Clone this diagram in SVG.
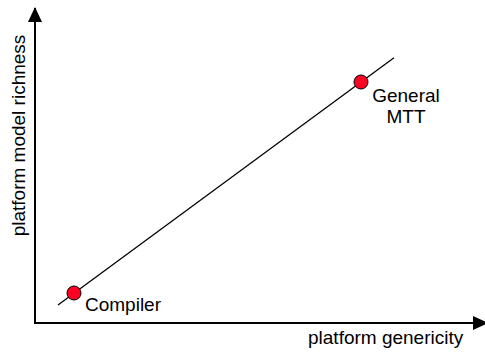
<svg xmlns="http://www.w3.org/2000/svg" width="485" height="352" viewBox="0 0 485 352">
<style>
text{font-family:"Liberation Sans",Arial,sans-serif;font-size:19px;fill:#000}
.axis{stroke:#000;stroke-width:2;fill:none}
.dot{fill:#ff0022;stroke:#000;stroke-width:1}
</style>
<defs>
<marker id="ah" viewBox="0 0 15 14" refX="14" refY="7" markerWidth="15" markerHeight="14" orient="auto" markerUnits="userSpaceOnUse">
<path d="M0,0 L15,7 L0,14 Z" fill="#000"/>
</marker>
</defs>
<rect width="485" height="352" fill="#fff"/>
<g id="connectors">
<line class="axis" x1="35" y1="324" x2="35" y2="8" marker-end="url(#ah)"/>
<line class="axis" x1="34" y1="323" x2="487" y2="323" marker-end="url(#ah)"/>
<line x1="58" y1="305" x2="394" y2="57.7" stroke="#000" stroke-width="1.3"/>
</g>
<g id="axis-labels">
<text x="308" y="344">platform genericity</text>
<text transform="translate(25,135.5) rotate(-90)" text-anchor="middle">platform model richness</text>
</g>
<g id="compiler">
<circle class="dot" cx="74" cy="293" r="7"/>
<text x="85" y="311">Compiler</text>
</g>
<g id="general-mtt">
<circle class="dot" cx="361" cy="82" r="7"/>
<text x="406" y="102" text-anchor="middle">General</text>
<text x="406" y="123" text-anchor="middle">MTT</text>
</g>
</svg>
